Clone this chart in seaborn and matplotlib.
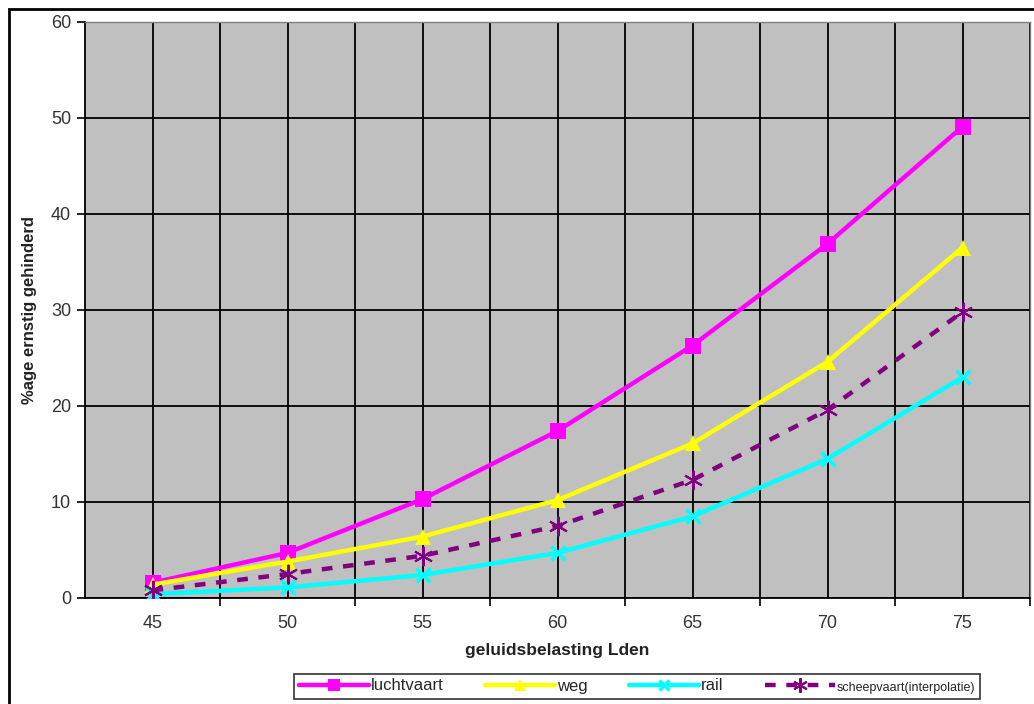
import numpy as np
import pandas as pd
import matplotlib
matplotlib.use("Agg")
import matplotlib.pyplot as plt
import seaborn as sns
from matplotlib.patches import Rectangle

# Data
lden = [45, 50, 55, 60, 65, 70, 75]
luchtvaart = [1.6, 4.7, 10.3, 17.4, 26.3, 36.9, 49.1]
weg = [1.4, 3.8, 6.4, 10.2, 16.1, 24.6, 36.5]
rail = [0.4, 1.1, 2.4, 4.7, 8.5, 14.5, 23.0]
scheepvaart = [0.8, 2.5, 4.4, 7.5, 12.3, 19.6, 29.8]
series_names = ["luchtvaart", "weg", "rail", "scheepvaart(interpolatie)"]
y_ticks = [0, 10, 20, 30, 40, 50, 60]

sns.set_style("white")
plt.rcParams['font.family'] = ['Liberation Sans', 'DejaVu Sans']

fig = plt.figure(figsize=(10.34, 7.04), dpi=100)
ax = fig.add_axes([85/1034, 1-598/704, (1030-85)/1034, (598-22)/704])
ax.set_facecolor("#c0c0c0")

df = pd.DataFrame({"lden": lden, "luchtvaart": luchtvaart, "weg": weg,
                   "rail": rail, "scheepvaart": scheepvaart})

styles = [
    ("luchtvaart", "#ff00ff", "s", "-", 11, 0),
    ("weg", "#ffff00", "^", "-", 11, 0),
    ("rail", "#00ffff", "x", "-", 10, 2.5),
    ("scheepvaart", "#800080", (6, 2, 0), (0, (2.4, 2.4)), 14, 1.5),
]
handles = []
for (col, color, marker, ls, ms, mew), name in zip(styles, series_names):
    sns.lineplot(data=df, x="lden", y=col, ax=ax, color=color, marker=marker,
                 linestyle=ls, linewidth=3.2, markersize=ms,
                 markeredgewidth=mew if mew else 0, markeredgecolor=color,
                 zorder=3)
    handles.append(ax.lines[-1])

ax.set_xlim(42.5, 77.5)
ax.set_ylim(0, 60)
ax.set_yticks(y_ticks)
ax.set_xticks(lden, minor=True)
ax.set_xticks(np.arange(47.5, 77.6, 5))
ax.set_xticklabels([])
ax.set_xticklabels([str(v) for v in lden], minor=True)
ax.tick_params(axis="x", which="major", length=6, width=1.2, color="black", direction="out", bottom=True)
ax.tick_params(axis="x", which="minor", length=0, labelsize=13, pad=12, labelcolor="#333333")
ax.tick_params(axis="y", length=6, width=1.2, color="black", direction="out", left=True,
               labelsize=13, labelcolor="#333333", pad=4)
ax.grid(True, which="both", axis="x", color="black", linewidth=1.3, zorder=1)
ax.grid(True, which="major", axis="y", color="black", linewidth=1.3, zorder=1)
ax.set_axisbelow(True)

for s in ["top", "right"]:
    ax.spines[s].set_color("#808080")
    ax.spines[s].set_linewidth(1)
for s in ["left", "bottom"]:
    ax.spines[s].set_color("black")
    ax.spines[s].set_linewidth(1.3)

ax.set_xlabel("geluidsbelasting Lden", fontsize=12.5, fontweight="bold", labelpad=8, color="#222222")
ax.set_ylabel("%age ernstig gehinderd", fontsize=12, fontweight="bold", labelpad=10, color="#222222")

leg = fig.legend(handles, series_names, loc="center", bbox_to_anchor=(637/1034, 1-686/704),
                 ncol=4, frameon=True, fancybox=False, edgecolor="black",
                 fontsize=12, handlelength=4.2, handletextpad=0.1, columnspacing=2.5,
                 borderpad=0.3, markerscale=0.75)
leg.get_frame().set_linewidth(1.2)
leg.get_texts()[3].set_fontsize(9)

fig.patches.append(Rectangle((9/1034, -0.05), 1.1, 1-9/704+0.05, transform=fig.transFigure,
                             fill=False, edgecolor="black", linewidth=2))

fig.savefig("out.png", dpi=100)
